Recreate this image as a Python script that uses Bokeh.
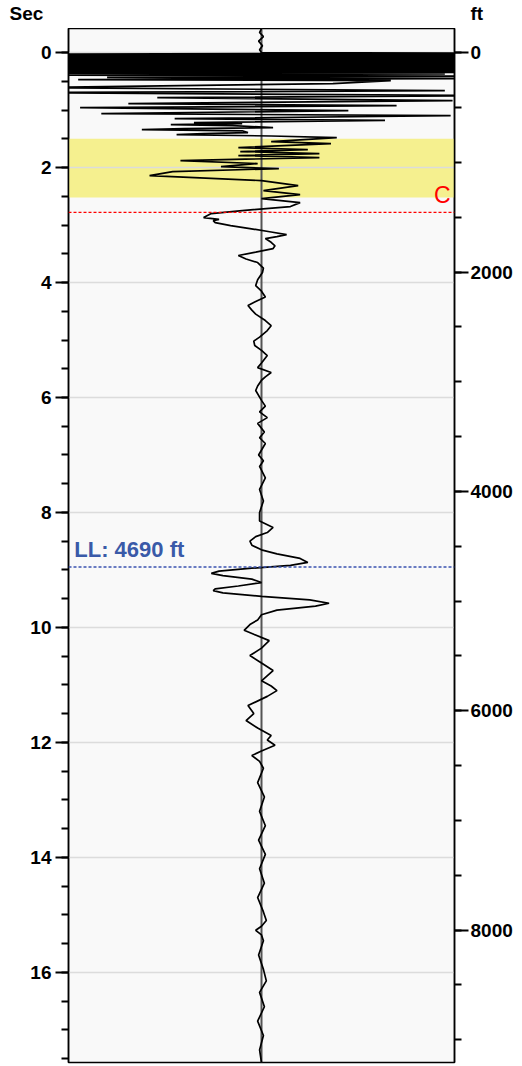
from bokeh.plotting import figure
from bokeh.layouts import column
from bokeh.models import Range1d, LinearAxis, Span, BoxAnnotation, Label, FixedTicker
from bokeh.core.properties import value
from bokeh.embed import file_html
from bokeh.resources import INLINE

# ---- data ----
sec_ticks = [0, 2, 4, 6, 8, 10, 12, 14, 16]
sec_minor = [x * 0.5 for x in range(-1, 36)]
ft_ticks = [0, 2000, 4000, 6000, 8000]
ft_minor = [x * 500 for x in range(-1, 19)]
ft_per_sec = 524.0
sec_range = (-0.42, 17.57)
axis_titles = ["Sec", "ft"]

band_top, band_bottom = 1.5, 2.52
c_marker_sec = 2.78
ll_depth_ft = 4690

trace_t = [
    -0.42, -0.35, -0.28, -0.20, -0.12, -0.05, 0.0,
    0.010, 0.025, 0.040, 0.055, 0.070, 0.085, 0.100, 0.115, 0.130, 0.145,
    0.160, 0.175, 0.190, 0.205, 0.220, 0.235, 0.250, 0.265, 0.280, 0.295,
    0.310, 0.325, 0.340, 0.355,
    0.370, 0.390, 0.410, 0.430, 0.450, 0.470, 0.487, 0.539, 0.609, 0.661,
    0.696, 0.748, 0.783, 0.835, 0.887, 0.922, 0.957, 1.009, 1.061, 1.096,
    1.148, 1.180, 1.217, 1.235, 1.252, 1.270, 1.304, 1.322, 1.339, 1.360,
    1.391, 1.410, 1.426, 1.450, 1.478,
    1.548, 1.583, 1.652, 1.687, 1.722, 1.757, 1.791, 1.826, 1.878, 1.930,
    1.983, 2.017, 2.070, 2.139, 2.226, 2.313, 2.400, 2.470, 2.539, 2.609,
    2.678, 2.748, 2.800, 2.870, 2.900, 2.922, 2.957, 3.010, 3.061, 3.120,
    3.165, 3.200, 3.235, 3.300, 3.360, 3.409, 3.470, 3.530, 3.590, 3.652,
    3.750, 3.826, 3.950, 4.052, 4.150, 4.250, 4.330, 4.400, 4.480, 4.550,
    4.661, 4.750, 4.835, 4.950, 5.020, 5.096, 5.180, 5.270, 5.400, 5.480,
    5.565, 5.640, 5.700, 5.800, 5.878, 6.050, 6.150, 6.250, 6.350, 6.450,
    6.600, 6.700, 6.800, 7.000, 7.100, 7.200, 7.400, 7.600, 7.800, 8.000,
    8.150, 8.260, 8.350, 8.420, 8.500, 8.570, 8.650, 8.720, 8.800, 8.870,
    8.920, 8.970, 9.020, 9.060, 9.100, 9.160, 9.220, 9.280, 9.330, 9.360,
    9.400, 9.460, 9.520, 9.580, 9.630, 9.700, 9.780, 9.870, 9.950, 10.050,
    10.120, 10.230, 10.360, 10.490, 10.620, 10.750, 10.930, 11.020, 11.100,
    11.200, 11.360, 11.500, 11.620, 11.750, 11.880, 11.960, 12.050, 12.150,
    12.230, 12.330, 12.450, 12.700, 12.950, 13.200, 13.450, 13.700, 13.950,
    14.200, 14.450, 14.700, 14.950, 15.100, 15.200, 15.270, 15.350, 15.450,
    15.700, 15.950, 16.150, 16.350, 16.600, 16.850, 17.100, 17.350, 17.570,
]
trace_a = [
    0.0, -0.01, 0.01, -0.015, 0.005, -0.01, 0.0,
    1.3, -1.3, 1.3, -1.3, 1.3, -1.3, 1.3, -1.3, 1.3, -1.3,
    1.3, -1.3, 1.3, -1.3, 1.3, -1.3, 1.3, -1.3, 1.3, -1.3,
    1.3, -1.3, 1.3, -1.3,
    0.95, -1.1, 1.0, -0.8, 1.2, -0.95, 0.67, 0.37, -1.2, 0.95,
    -1.2, 1.2, -0.54, 0.99, -0.69, 0.70, -0.94, 0.45, -0.83, 0.98,
    -0.45, 0.64, -0.35, -0.10, -0.47, -0.15, 0.06, -0.40, -0.62, -0.10,
    -0.07, -0.30, -0.44, 0.05, 0.39,
    0.05, 0.36, -0.12, 0.24, -0.11, 0.30, -0.12, 0.30, -0.42, -0.02,
    -0.21, 0.09, -0.46, -0.58, 0.0, 0.19, 0.01, 0.20, 0.0, 0.20,
    0.15, -0.10, -0.26, -0.30, -0.22, -0.25, -0.24, -0.16, -0.06, 0.05,
    0.13, 0.08, 0.02, 0.05, 0.07, 0.06, -0.03, -0.12, -0.08, -0.02,
    0.01, 0.005, -0.02, -0.03, 0.0, 0.02, -0.03, -0.07, -0.05, -0.03,
    0.02, 0.05, 0.03, -0.01, -0.04, -0.035, 0.0, 0.03, 0.0, -0.02,
    0.05, 0.02, 0.0, -0.02, -0.03, 0.0, 0.02, -0.01, 0.03, -0.02,
    0.015, -0.01, 0.02, -0.015, 0.01, -0.01, 0.02, -0.01, 0.01, -0.01,
    -0.01, 0.06, 0.03, -0.03, -0.06, -0.05, 0.0, 0.08, 0.20, 0.24,
    0.15, -0.05, -0.22, -0.26, -0.20, -0.05, 0.0, -0.12, -0.24, -0.25,
    -0.20, 0.0, 0.25, 0.35, 0.28, 0.08, 0.0, -0.02, -0.06, -0.09,
    -0.04, 0.04, 0.0, -0.06, 0.0, 0.06, 0.0, 0.05, 0.08,
    0.03, -0.07, -0.04, -0.08, -0.02, 0.05, 0.03, 0.07, 0.0,
    -0.05, -0.01, 0.01, -0.02, 0.015, -0.01, 0.02, -0.015, 0.02,
    -0.01, 0.015, -0.02, 0.01, 0.025, 0.0, -0.03, 0.0, 0.01,
    -0.015, 0.01, 0.025, -0.01, 0.015, -0.02, 0.01, -0.01, 0.0,
]

FONT = "Liberation Sans"
W = 522

# ---- header strip with the two axis titles ----
head = figure(width=W, height=28, x_range=Range1d(0, W), y_range=Range1d(28, 0),
              x_axis_location=None, y_axis_location=None,
              output_backend="svg", toolbar_location=None,
              min_border=0)
head.frame_align = False
head.outline_line_color = None
head.grid.visible = False
head.background_fill_color = "white"
head.border_fill_color = "white"
head.text(x=[9, 470], y=[13, 13], text=axis_titles, text_color="black",
          text_font=value(FONT), text_font_style="bold", text_font_size="19px",
          text_align="left", text_baseline="middle")

# ---- main plot ----
p = figure(
    width=W, height=1038,
    x_range=Range1d(-1, 1),
    y_range=Range1d(sec_range[1], sec_range[0]),
    x_axis_location=None,
    output_backend="svg", toolbar_location=None,
    min_border_left=68, min_border_right=68,
    min_border_top=0, min_border_bottom=4,
)
p.frame_align = False
p.background_fill_color = "#f9f9f9"
p.border_fill_color = "white"
p.outline_line_color = "black"
p.outline_line_width = 1.5
p.xgrid.visible = False
p.ygrid.ticker = FixedTicker(ticks=sec_ticks)
p.ygrid.grid_line_color = "#dcdcdc"
p.ygrid.grid_line_width = 1.5


def style_axis(a, tick_out, standoff):
    a.major_tick_out = tick_out
    a.major_tick_in = 0
    a.minor_tick_out = 7
    a.minor_tick_in = 0
    a.major_tick_line_width = 2
    a.minor_tick_line_width = 2
    a.axis_line_width = 1.5
    a.major_label_standoff = standoff
    a.major_label_text_font = FONT
    a.major_label_text_font_style = "bold"
    a.major_label_text_font_size = "19px"
    a.major_label_text_color = "black"


ax = p.yaxis[0]
ax.ticker = FixedTicker(ticks=sec_ticks, minor_ticks=sec_minor)
style_axis(ax, 13, 4)

p.extra_y_ranges = {"ft": Range1d(sec_range[1] * ft_per_sec, sec_range[0] * ft_per_sec)}
rax = LinearAxis(y_range_name="ft",
                 ticker=FixedTicker(ticks=ft_ticks, minor_ticks=ft_minor))
style_axis(rax, 14, 2)
p.add_layout(rax, "right")

band = BoxAnnotation(top=band_top, bottom=band_bottom, fill_color="#f5f08f",
                     fill_alpha=1.0, line_alpha=0, level="image")
p.add_layout(band)

center = Span(location=0, dimension="height", line_color="#555555",
              line_width=2, level="underlay")
p.add_layout(center)

p.line(trace_a, trace_t, line_color="black", line_width=1.7)

red = Span(location=c_marker_sec, dimension="width", line_color="red",
           line_dash="3 2", line_width=1.2)
p.add_layout(red)
ll_sec = ll_depth_ft / ft_per_sec
blue = Span(location=ll_sec, dimension="width", line_color="#3a52b0",
            line_dash="3 2", line_width=1.5)
p.add_layout(blue)

p.add_layout(Label(x=0.98, y=c_marker_sec - 0.08, text="C", text_color="red",
                   text_font=FONT, text_font_size="23px",
                   text_align="right", text_baseline="bottom"))
p.add_layout(Label(x=-0.97, y=ll_sec - 0.08, text="LL: " + str(ll_depth_ft) + " ft",
                   text_color="#3a5aa8", text_font=FONT,
                   text_font_style="bold", text_font_size="22px",
                   text_align="left", text_baseline="bottom"))

open("out.html", "w").write(file_html(column(head, p, spacing=0), INLINE))
